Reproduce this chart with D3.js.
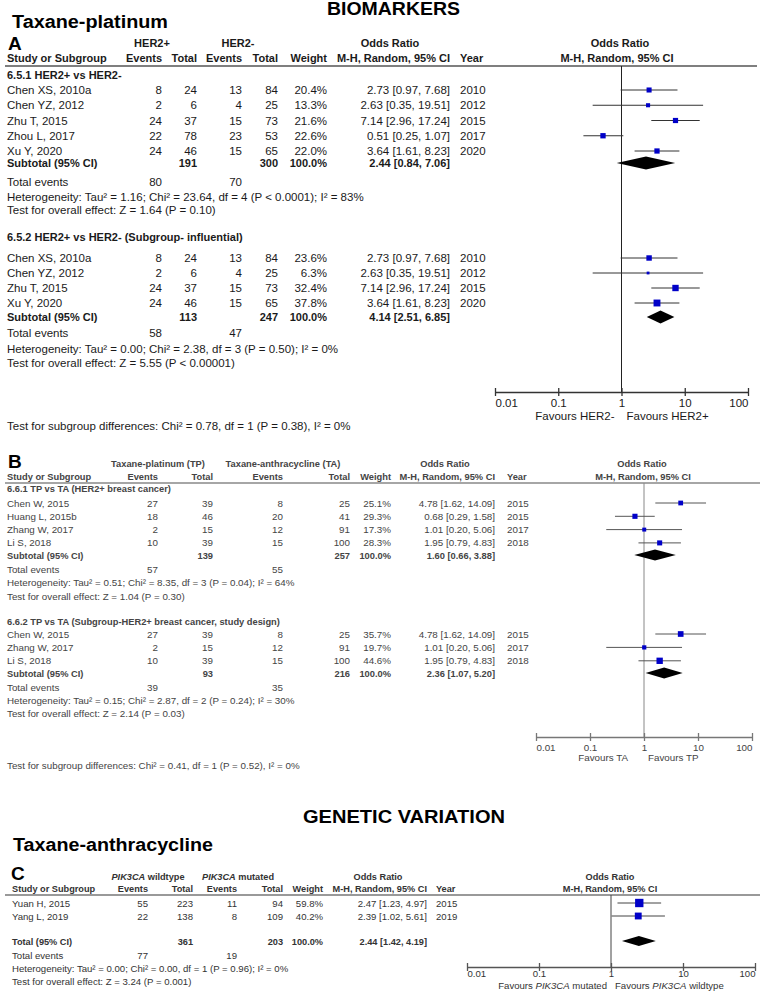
<!DOCTYPE html>
<html><head><meta charset="utf-8">
<script src="https://cdn.jsdelivr.net/npm/d3@7"></script>
<style>body{margin:0;background:#fff}svg{display:block}</style>
</head><body>
<svg id="chart" width="764" height="992"></svg>
<script>
// ---------------- DATA ----------------
const oddsTicks = [0.01, 0.1, 1, 10, 100];
const oddsTickLabels = ["0.01", "0.1", "1", "10", "100"];

// [study, events1, total1, events2, total2, weight %, OR, lower, upper, year]
const rowsA1 = [
  ["Chen XS, 2010a", 8, 24, 13, 84, 20.4, 2.73, 0.97, 7.68, 2010],
  ["Chen YZ, 2012", 2, 6, 4, 25, 13.3, 2.63, 0.35, 19.51, 2012],
  ["Zhu T, 2015", 24, 37, 15, 73, 21.6, 7.14, 2.96, 17.24, 2015],
  ["Zhou L, 2017", 22, 78, 23, 53, 22.6, 0.51, 0.25, 1.07, 2017],
  ["Xu Y, 2020", 24, 46, 15, 65, 22.0, 3.64, 1.61, 8.23, 2020]
];
const subtotalA1 = [191, 300, 100.0, 2.44, 0.84, 7.06];
const eventsA1 = [80, 70];
const statsA1 = ["Heterogeneity: Tau² = 1.16; Chi² = 23.64, df = 4 (P < 0.0001); I² = 83%",
                 "Test for overall effect: Z = 1.64 (P = 0.10)"];

const rowsA2 = [
  ["Chen XS, 2010a", 8, 24, 13, 84, 23.6, 2.73, 0.97, 7.68, 2010],
  ["Chen YZ, 2012", 2, 6, 4, 25, 6.3, 2.63, 0.35, 19.51, 2012],
  ["Zhu T, 2015", 24, 37, 15, 73, 32.4, 7.14, 2.96, 17.24, 2015],
  ["Xu Y, 2020", 24, 46, 15, 65, 37.8, 3.64, 1.61, 8.23, 2020]
];
const subtotalA2 = [113, 247, 100.0, 4.14, 2.51, 6.85];
const eventsA2 = [58, 47];
const statsA2 = ["Heterogeneity: Tau² = 0.00; Chi² = 2.38, df = 3 (P = 0.50); I² = 0%",
                 "Test for overall effect: Z = 5.55 (P < 0.00001)"];
const diffA = "Test for subgroup differences: Chi² = 0.78, df = 1 (P = 0.38), I² = 0%";

const rowsB1 = [
  ["Chen W, 2015", 27, 39, 8, 25, 25.1, 4.78, 1.62, 14.09, 2015],
  ["Huang L, 2015b", 18, 46, 20, 41, 29.3, 0.68, 0.29, 1.58, 2015],
  ["Zhang W, 2017", 2, 15, 12, 91, 17.3, 1.01, 0.20, 5.06, 2017],
  ["Li S, 2018", 10, 39, 15, 100, 28.3, 1.95, 0.79, 4.83, 2018]
];
const subtotalB1 = [139, 257, 100.0, 1.60, 0.66, 3.88];
const eventsB1 = [57, 55];
const statsB1 = ["Heterogeneity: Tau² = 0.51; Chi² = 8.35, df = 3 (P = 0.04); I² = 64%",
                 "Test for overall effect: Z = 1.04 (P = 0.30)"];

const rowsB2 = [
  ["Chen W, 2015", 27, 39, 8, 25, 35.7, 4.78, 1.62, 14.09, 2015],
  ["Zhang W, 2017", 2, 15, 12, 91, 19.7, 1.01, 0.20, 5.06, 2017],
  ["Li S, 2018", 10, 39, 15, 100, 44.6, 1.95, 0.79, 4.83, 2018]
];
const subtotalB2 = [93, 216, 100.0, 2.36, 1.07, 5.20];
const eventsB2 = [39, 35];
const statsB2 = ["Heterogeneity: Tau² = 0.15; Chi² = 2.87, df = 2 (P = 0.24); I² = 30%",
                 "Test for overall effect: Z = 2.14 (P = 0.03)"];
const diffB = "Test for subgroup differences: Chi² = 0.41, df = 1 (P = 0.52), I² = 0%";

const rowsC = [
  ["Yuan H, 2015", 55, 223, 11, 94, 59.8, 2.47, 1.23, 4.97, 2015],
  ["Yang L, 2019", 22, 138, 8, 109, 40.2, 2.39, 1.02, 5.61, 2019]
];
const totalC = [361, 203, 100.0, 2.44, 1.42, 4.19];
const eventsC = [77, 19];
const statsC = ["Heterogeneity: Tau² = 0.00; Chi² = 0.00, df = 1 (P = 0.96); I² = 0%",
                "Test for overall effect: Z = 3.24 (P = 0.001)"];

// ---------------- DRAWING ----------------
const FONT = "'Liberation Sans', Arial, Helvetica, sans-serif";
const svg = d3.select("#chart");

function T(x, y, s, o = {}) {
  const t = svg.append("text").attr("x", x).attr("y", y)
    .attr("font-family", FONT).attr("font-size", o.size || 11)
    .attr("fill", o.fill || "#111").attr("text-anchor", o.anchor || "start");
  if (o.bold) t.attr("font-weight", "bold");
  if (o.len) t.attr("textLength", o.len).attr("lengthAdjust", "spacingAndGlyphs");
  if (Array.isArray(s)) s.forEach(p => t.append("tspan").attr("font-style", p.i ? "italic" : null).text(p.t));
  else t.text(s);
  return t;
}
const f2 = v => v.toFixed(2);
const orText = (o, l, h) => `${f2(o)} [${f2(l)}, ${f2(h)}]`;

function drawPanel(P) {
  const c = P.cols, off = P.off;
  const reg = { size: P.fs, fill: P.fill };
  const bld = { size: P.fb, fill: P.fill, bold: true };
  const x = d3.scaleLog().domain([oddsTicks[0], oddsTicks[oddsTicks.length - 1]]).range(P.xr);

  // headers
  P.head1.forEach(h => T(h[1], P.h1y, h[0], { ...bld, anchor: "middle" }));
  T(c.name, P.h2y, "Study or Subgroup", bld);
  T(c.e1, P.h2y, "Events", { ...bld, anchor: "end" });
  T(c.n1, P.h2y, "Total", { ...bld, anchor: "end" });
  T(c.e2, P.h2y, "Events", { ...bld, anchor: "end" });
  T(c.n2, P.h2y, "Total", { ...bld, anchor: "end" });
  T(c.w, P.h2y, "Weight", { ...bld, anchor: "end" });
  T(c.or, P.h2y, "M-H, Random, 95% CI", { ...bld, anchor: "end" });
  T(c.year, P.h2y, "Year", bld);
  T(P.mhx, P.h2y, "M-H, Random, 95% CI", { ...bld, anchor: "middle" });
  svg.append("line").attr("x1", P.lineX[0]).attr("x2", P.lineX[1])
    .attr("y1", P.lineY).attr("y2", P.lineY).attr("stroke", P.lineColor).attr("stroke-width", 1.3);

  // vertical line of no effect
  svg.append("line").attr("x1", x(1)).attr("x2", x(1)).attr("y1", P.lineY).attr("y2", P.axisY)
    .attr("stroke", P.vColor).attr("stroke-width", 1);

  P.groups.forEach(g => {
    if (g.title) T(c.name, g.titleY + off, g.title, bld);
    g.rows.forEach((r, i) => {
      const y = g.y0 + i * g.step;
      T(c.name, y + off, r[0], reg);
      T(c.e1, y + off, r[1], { ...reg, anchor: "end" });
      T(c.n1, y + off, r[2], { ...reg, anchor: "end" });
      T(c.e2, y + off, r[3], { ...reg, anchor: "end" });
      T(c.n2, y + off, r[4], { ...reg, anchor: "end" });
      T(c.w, y + off, r[5].toFixed(1) + "%", { ...reg, anchor: "end" });
      T(c.or, y + off, orText(r[6], r[7], r[8]), { ...reg, anchor: "end" });
      T(c.year, y + off, r[9], reg);
      svg.append("line").attr("x1", x(r[7])).attr("x2", x(r[8])).attr("y1", y).attr("y2", y)
        .attr("stroke", P.ciColor).attr("stroke-width", 1);
      const s = Math.max(2.5, P.k * Math.sqrt(r[5]));
      svg.append("rect").attr("x", x(r[6]) - s / 2).attr("y", y - s / 2)
        .attr("width", s).attr("height", s).attr("fill", "#0000c8");
    });
    const st = g.sub, sy = g.subY;
    T(c.name, sy + off, g.subLabel, bld);
    T(c.n1, sy + off, st[0], { ...bld, anchor: "end" });
    T(c.n2, sy + off, st[1], { ...bld, anchor: "end" });
    T(c.w, sy + off, st[2].toFixed(1) + "%", { ...bld, anchor: "end" });
    T(c.or, sy + off, orText(st[3], st[4], st[5]), { ...bld, anchor: "end" });
    const hh = P.dH / 2;
    svg.append("path").attr("d", d3.line()([[x(st[4]), sy], [x(st[3]), sy - hh], [x(st[5]), sy], [x(st[3]), sy + hh]]) + "Z")
      .attr("fill", "#000");
    T(c.name, g.evY + off, "Total events", reg);
    T(c.e1, g.evY + off, g.ev[0], { ...reg, anchor: "end" });
    T(c.e2, g.evY + off, g.ev[1], { ...reg, anchor: "end" });
    T(c.name, g.hetY + off, g.stats[0], reg);
    T(c.name, g.testY + off, g.stats[1], reg);
  });
  if (P.diff) T(c.name, P.diffY + off, P.diff, reg);

  // axis
  const ax = d3.axisBottom(x).tickValues(oddsTicks).tickFormat((d, i) => oddsTickLabels[i])
    .tickSizeInner(4).tickSizeOuter(0);
  const ag = svg.append("g").attr("transform", `translate(0,${P.axisY})`).call(ax)
    .attr("font-family", FONT).attr("font-size", P.fs);
  ag.select(".domain").attr("stroke", P.axisColor).attr("stroke-width", 1.3);
  ag.selectAll(".tick line").attr("y1", -4).attr("y2", 4).attr("stroke", P.axisColor).attr("stroke-width", 1.3);
  ag.selectAll(".tick text").attr("y", P.tickDy).attr("dy", null).attr("fill", P.fill)
    .attr("text-anchor", (d, i) => i === 0 ? "start" : i === oddsTicks.length - 1 ? "end" : "middle");
  T(x(1) - P.favGap[0], P.favY, P.favL, { ...reg, anchor: "end" });
  T(x(1) + P.favGap[1], P.favY, P.favR, reg);
}

// titles
T(327, 15, "BIOMARKERS", { size: 17.5, bold: true, fill: "#000", len: 133 });
T(12, 28, "Taxane-platinum", { size: 18, bold: true, fill: "#000", len: 156 });
T(8, 50, "A", { size: 19, bold: true, fill: "#000" });
T(8, 468, "B", { size: 19, bold: true, fill: "#000" });
T(303, 823, "GENETIC VARIATION", { size: 17.5, bold: true, fill: "#000", len: 202 });
T(13, 851, "Taxane-anthracycline", { size: 18, bold: true, fill: "#000", len: 200 });
T(11, 880, "C", { size: 19, bold: true, fill: "#000" });

drawPanel({
  fs: 11.5, fb: 11, fill: "#1a1a1a", off: 4,
  cols: { name: 7, e1: 162, n1: 197, e2: 242, n2: 278, w: 327, or: 450, year: 460 },
  head1: [["HER2+", 152], ["HER2-", 238], ["Odds Ratio", 390], ["Odds Ratio", 620]],
  h1y: 47, h2y: 62, mhx: 617, lineX: [5, 757], lineY: 66, lineColor: "#555",
  xr: [495, 748], axisY: 392, vColor: "#222", axisColor: "#333", ciColor: "#333",
  k: 1.12, dH: 13, tickDy: 15, favY: 420, favGap: [7, 5],
  favL: "Favours HER2-", favR: "Favours HER2+",
  groups: [
    { title: "6.5.1 HER2+ vs HER2-", titleY: 75, rows: rowsA1, y0: 90, step: 15.25,
      sub: subtotalA1, subLabel: "Subtotal (95% CI)", subY: 163, ev: eventsA1, evY: 182,
      stats: statsA1, hetY: 197, testY: 210 },
    { title: "6.5.2 HER2+ vs HER2- (Subgroup- influential)", titleY: 237, rows: rowsA2, y0: 258, step: 15,
      sub: subtotalA2, subLabel: "Subtotal (95% CI)", subY: 317, ev: eventsA2, evY: 333,
      stats: statsA2, hetY: 349, testY: 363 }
  ],
  diff: diffA, diffY: 426
});

drawPanel({
  fs: 9.8, fb: 9.3, fill: "#444", off: 3.5,
  cols: { name: 7, e1: 158, n1: 213, e2: 283, n2: 350, w: 391, or: 495, year: 507 },
  head1: [["Taxane-platinum (TP)", 158], ["Taxane-anthracycline (TA)", 283], ["Odds Ratio", 445], ["Odds Ratio", 642]],
  h1y: 467, h2y: 480, mhx: 643, lineX: [5, 760], lineY: 483, lineColor: "#888",
  xr: [536, 752], axisY: 737, vColor: "#888", axisColor: "#777", ciColor: "#555",
  k: 0.95, dH: 11, tickDy: 14, favY: 761, favGap: [16, 4],
  favL: "Favours TA", favR: "Favours TP",
  groups: [
    { title: "6.6.1 TP vs TA (HER2+ breast cancer)", titleY: 488, rows: rowsB1, y0: 503, step: 13.3,
      sub: subtotalB1, subLabel: "Subtotal (95% CI)", subY: 555, ev: eventsB1, evY: 569,
      stats: statsB1, hetY: 582, testY: 596 },
    { title: "6.6.2 TP vs TA (Subgroup-HER2+ breast cancer, study design)", titleY: 621, rows: rowsB2, y0: 634, step: 13.4,
      sub: subtotalB2, subLabel: "Subtotal (95% CI)", subY: 673, ev: eventsB2, evY: 687,
      stats: statsB2, hetY: 700, testY: 713 }
  ],
  diff: diffB, diffY: 765
});

drawPanel({
  fs: 9.6, fb: 9.2, fill: "#333", off: 3.5,
  cols: { name: 12, e1: 148, n1: 193, e2: 237, n2: 283, w: 323, or: 427, year: 436 },
  head1: [[[{ t: "PIK3CA", i: true }, { t: " wildtype" }], 148], [[{ t: "PIK3CA", i: true }, { t: " mutated" }], 238],
          ["Odds Ratio", 378], ["Odds Ratio", 610]],
  h1y: 879.5, h2y: 891.5, mhx: 610, lineX: [5, 760], lineY: 895, lineColor: "#777",
  xr: [467, 755], axisY: 967, vColor: "#444", axisColor: "#555", ciColor: "#444",
  k: 1.08, dH: 10, tickDy: 10, favY: 988.5, favGap: [4, 4],
  favL: [{ t: "Favours " }, { t: "PIK3CA", i: true }, { t: " mutated" }],
  favR: [{ t: "Favours " }, { t: "PIK3CA", i: true }, { t: " wildtype" }],
  groups: [
    { title: null, rows: rowsC, y0: 903, step: 13,
      sub: totalC, subLabel: "Total (95% CI)", subY: 941, ev: eventsC, evY: 955,
      stats: statsC, hetY: 968, testY: 981 }
  ]
});
</script>
</body></html>
